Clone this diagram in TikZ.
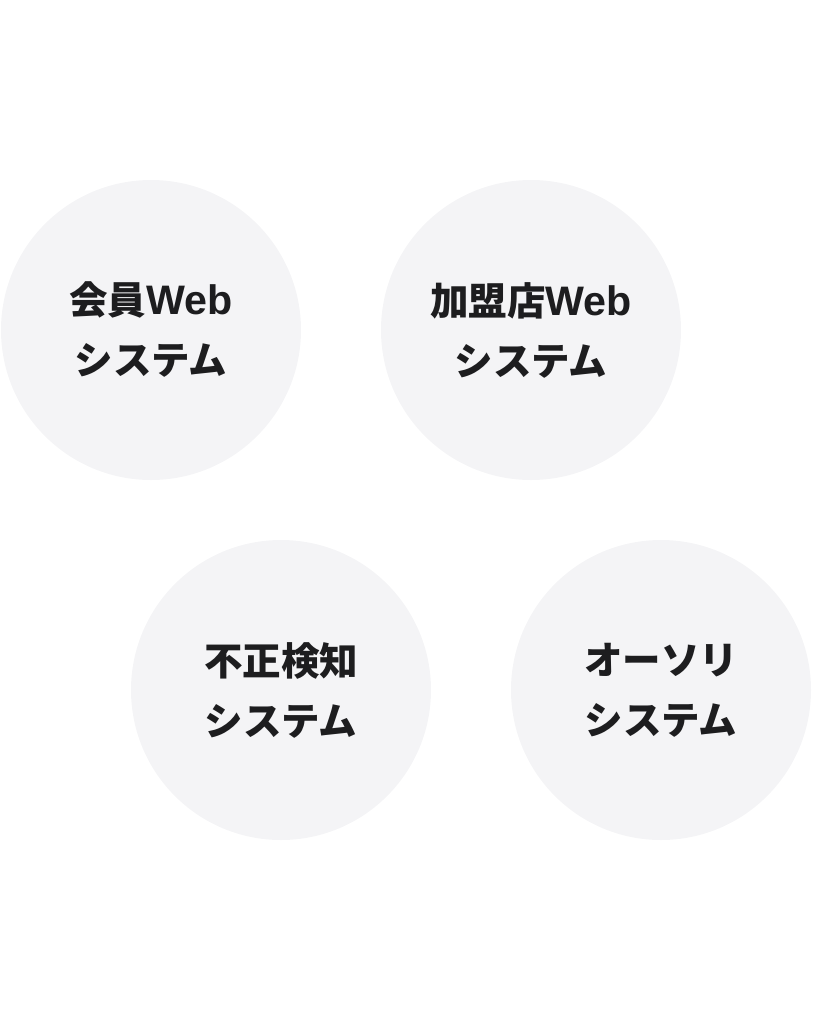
\documentclass[tikz,border=0pt]{standalone}
\usepackage{fontspec}
\newfontfamily\jpfont{Noto Sans CJK JP}
\newfontfamily\latinfont{Liberation Sans Bold}[Scale=1.07]
\definecolor{circfill}{HTML}{F4F4F6}
\definecolor{labeltext}{HTML}{1D1D1F}
\tikzset{
  sysnode/.style = {circle, fill=circfill, minimum size=300pt, inner sep=0pt,
    align=center, text=labeltext,
    font=\jpfont\bfseries\fontsize{38.5pt}{60pt}\selectfont}% system circle
}

\begin{document}
\begin{tikzpicture}[x=1pt,y=-1pt]
\useasboundingbox (0,0) rectangle (813,1021);
\node [sysnode] (member) at (151,330) {会員{\latinfont Web}\\システム};
\node [sysnode] (merchant) at (531,330) {加盟店{\latinfont Web}\\システム};
\node [sysnode] (fraud) at (281,690) {不正検知\\システム};
\node [sysnode] (auth) at (661,690) {オーソリ\\システム};
\end{tikzpicture}
\end{document}
